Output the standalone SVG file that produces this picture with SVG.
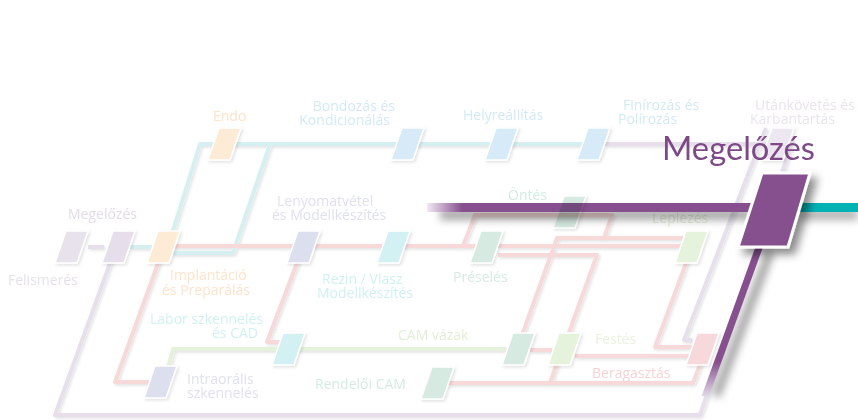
<svg xmlns="http://www.w3.org/2000/svg" xmlns:xlink="http://www.w3.org/1999/xlink" width="858" height="420" viewBox="0 0 858 420">
<defs>
<style>
text{font-family:"Open Sans",Lato,"Liberation Sans",sans-serif;font-size:14px}
.big{font-family:Lato,"Open Sans","Liberation Sans",sans-serif;font-size:32px;font-weight:400}
.c{fill:none;stroke-width:4;stroke-linejoin:round;stroke-linecap:butt}
.pu{stroke:#e7e0ec}.te{stroke:#d6f0f1}.pk{stroke:#f7d9d9}.gr{stroke:#e5f2db}
.st{stroke:#fff;stroke-width:1.5}
.ft{filter:url(#soft)}
</style>
<path id="st" d="M11,0 H33 L22,32 H0 Z"/>
<filter id="soft" x="-20%" y="-20%" width="140%" height="140%">
<feDropShadow dx="1.5" dy="1.5" stdDeviation="1.5" flood-color="#000" flood-opacity="0.12"/>
</filter>
<filter id="blur4" x="-20%" y="-100%" width="140%" height="300%"><feGaussianBlur stdDeviation="4"/></filter>
<filter id="bigsh" x="-50%" y="-50%" width="200%" height="200%">
<feDropShadow dx="6" dy="6" stdDeviation="4" flood-color="#000" flood-opacity="0.45"/>
</filter>
<linearGradient id="barG" gradientUnits="userSpaceOnUse" x1="427" y1="0" x2="462" y2="0">
<stop offset="0" stop-color="#f1eaf3"/><stop offset="1" stop-color="#86508e"/>
</linearGradient>
<linearGradient id="thickG" gradientUnits="userSpaceOnUse" x1="0" y1="362" x2="0" y2="398">
<stop offset="0" stop-color="#86508e"/><stop offset="1" stop-color="#e7e0ec"/>
</linearGradient>
</defs>
<rect width="858" height="420" fill="#fff"/>

<g id="connectors" class="ft">
<path class="c pu" d="M88,247 H104"/>
<path class="c pu" d="M113,255 L55,415 H700 L793,140"/>
<path class="c pu" d="M766,128 L684,340 H692"/>
<path class="c pu" d="M605,144 H772"/>
<path class="c te" d="M130,247 H152"/>
<path class="c te" d="M170,240 L200,144 H592"/>
<path class="c te" d="M270,144 L233,253 H172"/>
<path class="c pk" d="M170,246 H480"/>
<path class="c pk" d="M463,246 L475,215 H612 L604,238"/>
<path class="c pk" d="M498,246 H686"/>
<path class="c pk" d="M498,255 H597 L563,349"/>
<path class="c pk" d="M686,238 H557 L517,349"/>
<path class="c pk" d="M530,350 H552"/>
<path class="c pk" d="M575,356 H692"/>
<path class="c pk" d="M692,247 L655,347 H692"/>
<path class="c pk" d="M557,363 L550,383"/>
<path class="c pk" d="M448,383 H693 L701,362"/>
<path class="c pk" d="M164,247 L115,382 H152"/>
<path class="c pk" d="M303,247 L267,342 H280"/>
<path class="c gr" d="M168,368 L173,349 H506"/>
</g>

<g id="n-felismeres"><use href="#st" x="55" y="231" class="st ft" fill="#e8e2ec"/><text x="8" y="285" fill="#e6e0eb">Felismerés</text></g>
<g id="n-megelozes-small"><use href="#st" x="102" y="231" class="st ft" fill="#e6dfeb"/><text x="68" y="219" fill="#e3dbe8">Megelőzés</text></g>
<g id="n-implantacio"><use href="#st" x="147" y="231" class="st ft" fill="#fdebd6"/><text fill="#fde3c9"><tspan x="170" y="280">Implantáció</tspan><tspan x="162" y="295">és Preparálás</tspan></text></g>
<g id="n-endo"><use href="#st" x="208" y="128" class="st ft" fill="#fdebd6"/><text x="213" y="121" fill="#fde3c9">Endo</text></g>
<g id="n-bondozas"><use href="#st" x="391" y="128" class="st ft" fill="#d6ebf7"/><text text-anchor="end" fill="#d3e9f6"><tspan x="395" y="111">Bondozás és</tspan><tspan x="390" y="125">Kondicionálás</tspan></text></g>
<g id="n-helyreallitas"><use href="#st" x="485" y="128" class="st ft" fill="#d6ebf7"/><text x="463" y="120" fill="#d3e9f6">Helyreállítás</text></g>
<g id="n-finirozas"><use href="#st" x="577" y="128" class="st ft" fill="#d6ebf7"/><text fill="#d3e9f6"><tspan x="623" y="110">Finírozás és</tspan><tspan x="618" y="124">Polírozás</tspan></text></g>
<g id="n-utankovetes"><use href="#st" x="761" y="128" class="st ft" fill="#ede7f1"/><text fill="#ebe4ef"><tspan x="755" y="110">Utánkövetés és</tspan><tspan x="750" y="124">Karbantartás</tspan></text></g>
<g id="n-lenyomatvetel"><use href="#st" x="287" y="231" class="st ft" fill="#dcdfee"/><text fill="#dfe1ef"><tspan x="277" y="206">Lenyomatvétel</tspan><tspan x="272" y="220">és Modellkészítés</tspan></text></g>
<g id="n-rezin"><use href="#st" x="377" y="231" class="st ft" fill="#d3f1f2"/><text fill="#d1f0f1"><tspan x="322" y="284">Rezin / Viasz</tspan><tspan x="317" y="298">Modellkészítés</tspan></text></g>
<g id="n-preseles"><use href="#st" x="470" y="231" class="st ft" fill="#d6eae1"/><text x="453" y="282" fill="#d5ebe2">Préselés</text></g>
<g id="n-leplezes"><use href="#st" x="675" y="231" class="st ft" fill="#e6f3dc"/><text x="652" y="223" fill="#e3efd8">Leplezés</text></g>
<g id="n-labor"><use href="#st" x="272" y="333" class="st ft" fill="#d3f1f2"/><text text-anchor="end" fill="#d1f0f1"><tspan x="263" y="324">Labor szkennelés</tspan><tspan x="258" y="338">és CAD</tspan></text></g>
<g id="n-intraoralis"><use href="#st" x="144" y="366" class="st ft" fill="#dcdfee"/><text fill="#dfe1ef"><tspan x="187" y="384">Intraorális</tspan><tspan x="187" y="398">szkennelés</tspan></text></g>
<g id="n-rendeloi"><use href="#st" x="421" y="367" class="st ft" fill="#d6eae1"/><text x="315" y="389" fill="#d5ebe2">Rendelői CAM</text></g>
<g id="n-camvazak"><use href="#st" x="502" y="333" class="st ft" fill="#d6eae1"/><text x="398" y="340" fill="#e0efd6">CAM vázak</text></g>
<g id="n-festes"><use href="#st" x="548" y="333" class="st ft" fill="#e6f3dc"/><text x="595" y="344" fill="#e8f3dd">Festés</text></g>
<g id="n-beragasztas"><use href="#st" x="686" y="333" class="st ft" fill="#f8d9db"/><text x="592" y="378" fill="#f5d3d5">Beragasztás</text></g>

<g id="highlight">
<rect x="440" y="209" width="312" height="11" fill="#000" opacity="0.35" filter="url(#blur4)"/>
<rect x="800" y="209" width="58" height="11" fill="#000" opacity="0.3" filter="url(#blur4)"/>
<rect x="427" y="203" width="330" height="9" fill="url(#barG)"/>
<rect x="798" y="203" width="60" height="9" fill="#00b2b4"/>
<path d="M770,252 L716,396" stroke="#000" stroke-width="8" opacity="0.4" fill="none" filter="url(#blur4)"/>
<path d="M760,245 L705,397" stroke="url(#thickG)" stroke-width="7" fill="none"/>
</g>
<g id="n-ontes" style="mix-blend-mode:multiply"><use href="#st" x="553" y="196" class="st ft" fill="#d6eae1"/><text x="508" y="200" fill="#d3ebe2">Öntés</text></g>
<g id="n-megelozes">
<path d="M762,173 H810 L788,247 H738 Z" fill="#86508e" stroke="#fff" stroke-width="3" filter="url(#bigsh)"/>
<text class="big" x="662" y="160" textLength="153" lengthAdjust="spacingAndGlyphs" fill="#7d4a87">Megelőzés</text>
</g>
</svg>
